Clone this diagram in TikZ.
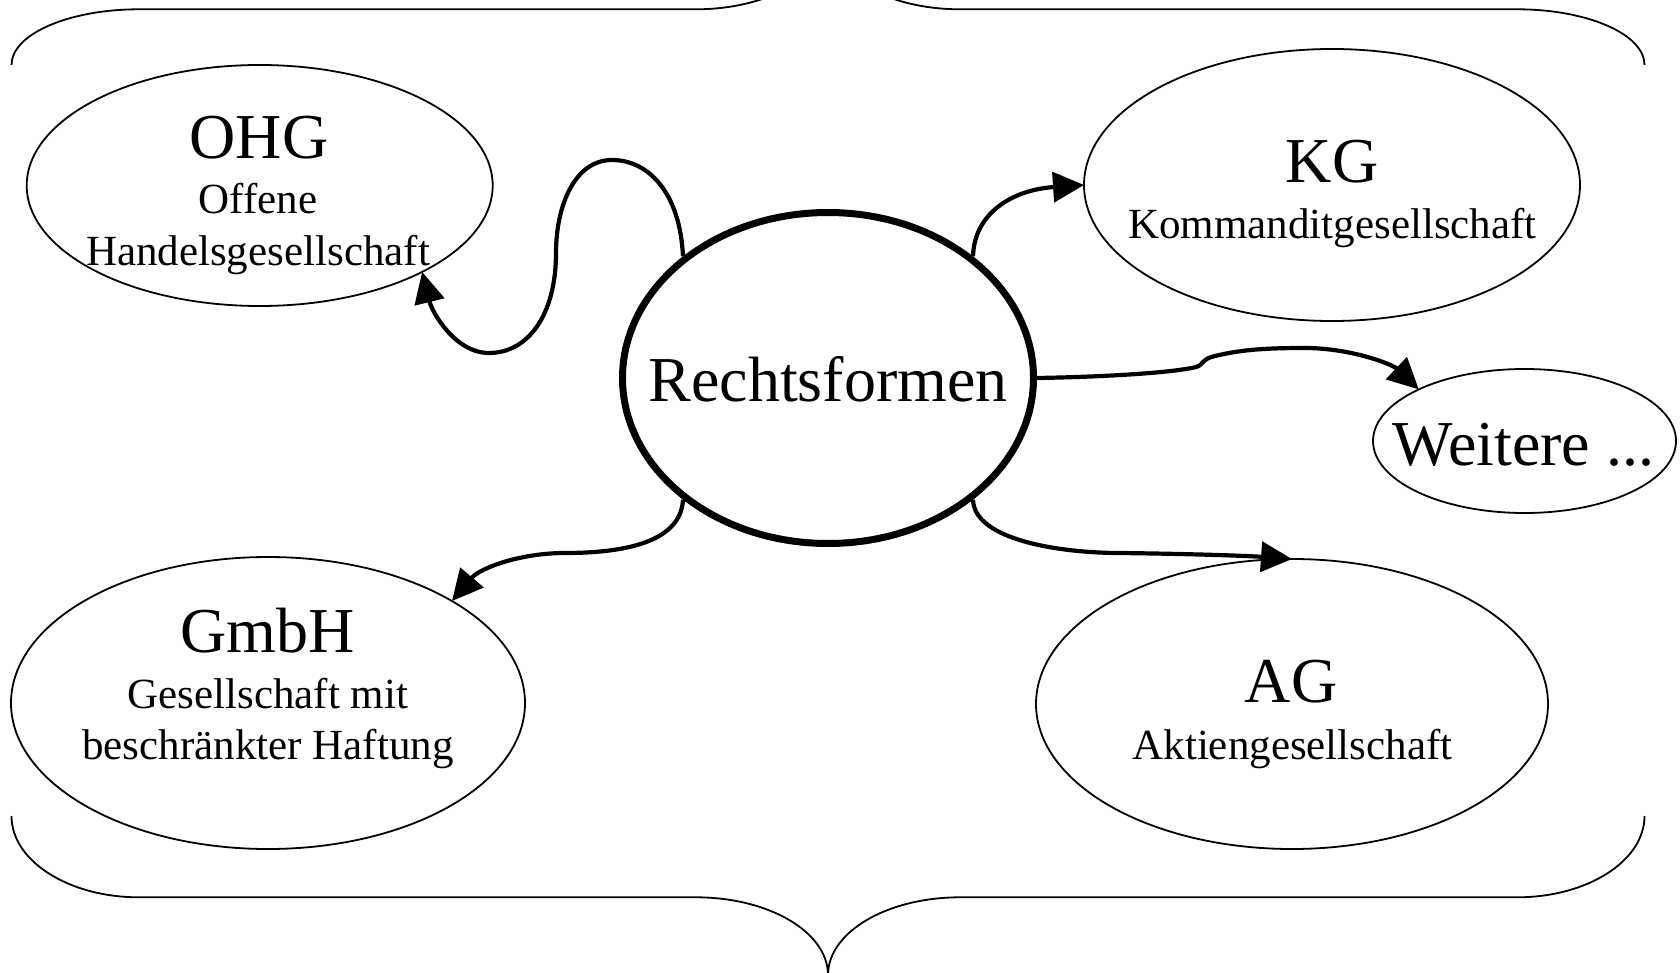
\documentclass[tikz,border=0pt]{standalone}
\usepackage{fontspec}
\setmainfont{Liberation Serif}
\usetikzlibrary{shapes.geometric,arrows.meta}
\begin{document}
\begin{tikzpicture}[x=1pt,y=-1pt,
  ell/.style={draw, ellipse, line width=1.8pt, inner sep=0pt, outer sep=0pt},
  centre/.style={draw, ellipse, line width=7pt, inner sep=0pt},
  bigtxt/.style={anchor=base, inner sep=0pt, font=\fontsize{64}{70}\selectfont},
  smalltxt/.style={anchor=base, inner sep=0pt, font=\fontsize{43}{50}\selectfont},
  conn/.style={line width=4.2pt, line join=round, -{Triangle[length=31pt,width=30pt]}},
  bracestyle/.style={line width=1.8pt}]
\useasboundingbox (0,0) rectangle (1680,973);
\clip (0,0) rectangle (1680,973);

% braces
\draw[bracestyle] (11.5,65) .. controls (11.5,34.2) and (68.6,9.3) .. (139,9.3)
  -- (696,9.3) .. controls (768.9,9.3) and (828,-24.9) .. (828,-67)
  .. controls (828,-24.9) and (887.1,9.3) .. (960,9.3)
  -- (1517,9.3) .. controls (1587.4,9.3) and (1644.5,34.2) .. (1644.5,65);
\draw[bracestyle] (11.5,816) .. controls (11.5,860.9) and (68.6,897.3) .. (139,897.3)
  -- (696,897.3) .. controls (768.9,897.3) and (828,932.1) .. (828,975)
  .. controls (828,932.1) and (887.1,897.3) .. (960,897.3)
  -- (1517,897.3) .. controls (1587.4,897.3) and (1644.5,860.9) .. (1644.5,816);

% ellipses
\node[centre, minimum width=411pt, minimum height=331pt] (rf) at (828,378) {};
\node[ell, minimum width=466pt, minimum height=241pt] (ohg) at (259.7,185.5) {};
\node[ell, minimum width=496pt, minimum height=272pt] (kg) at (1332,185) {};
\node[ell, minimum width=303pt, minimum height=144pt] (weitere) at (1524.5,441) {};
\node[ell, minimum width=514pt, minimum height=292pt] (gmbh) at (268,703) {};
\node[ell, minimum width=512pt, minimum height=290pt] (ag) at (1292,704) {};

% texts
\node[bigtxt] (rft) at (828,401.7) {Rechtsformen};
\node[bigtxt] (ohgt) at (259,158.5) {OHG};
\node[smalltxt] (ohgs1) at (258,214) {Offene};
\node[smalltxt] (ohgs2) at (258,266) {Handelsgesellschaft};
\node[bigtxt] (kgt) at (1332,182.7) {KG};
\node[smalltxt] (kgs) at (1332.5,238.3) {Kommanditgesellschaft};
\node[bigtxt] (wt) at (1523.5,465) {Weitere ...};
\node[bigtxt] (gmbht) at (267.5,652.7) {GmbH};
\node[smalltxt] (gmbhs1) at (268,708) {Gesellschaft mit};
\node[smalltxt] (gmbhs2) at (268,759.5) {beschränkter Haftung};
\node[bigtxt] (agt) at (1291,702.7) {AG};
\node[smalltxt] (ags) at (1292.5,759) {Aktiengesellschaft};

% connectors
\draw[conn] (rf.140) .. controls (680,192) and (648,160) .. (612,160)
  .. controls (575,160) and (556,205) .. (556,253)
  .. controls (556,315) and (528,353) .. (489,353)
  .. controls (455,353) and (432,312) .. (ohg.-28);
\draw[conn] (rf.40) .. controls (974,215) and (1010,190) .. (kg.west);
\draw[conn] (rf.east) .. controls (1100,377) and (1172,373) .. (1196,367)
  .. controls (1204,365) and (1201,359) .. (1215,356)
  .. controls (1243,349) and (1272,348) .. (1305,348)
  .. controls (1350,348) and (1392,364) .. (weitere.154);
\draw[conn] (rf.220) .. controls (681,540) and (630,553) .. (565,553)
  .. controls (520,553) and (480,568) .. (gmbh.29);
\draw[conn] (rf.320) .. controls (974,540) and (1060,553) .. (1120,553)
  .. controls (1200,554) and (1250,556) .. (ag.north);
\end{tikzpicture}
\end{document}
